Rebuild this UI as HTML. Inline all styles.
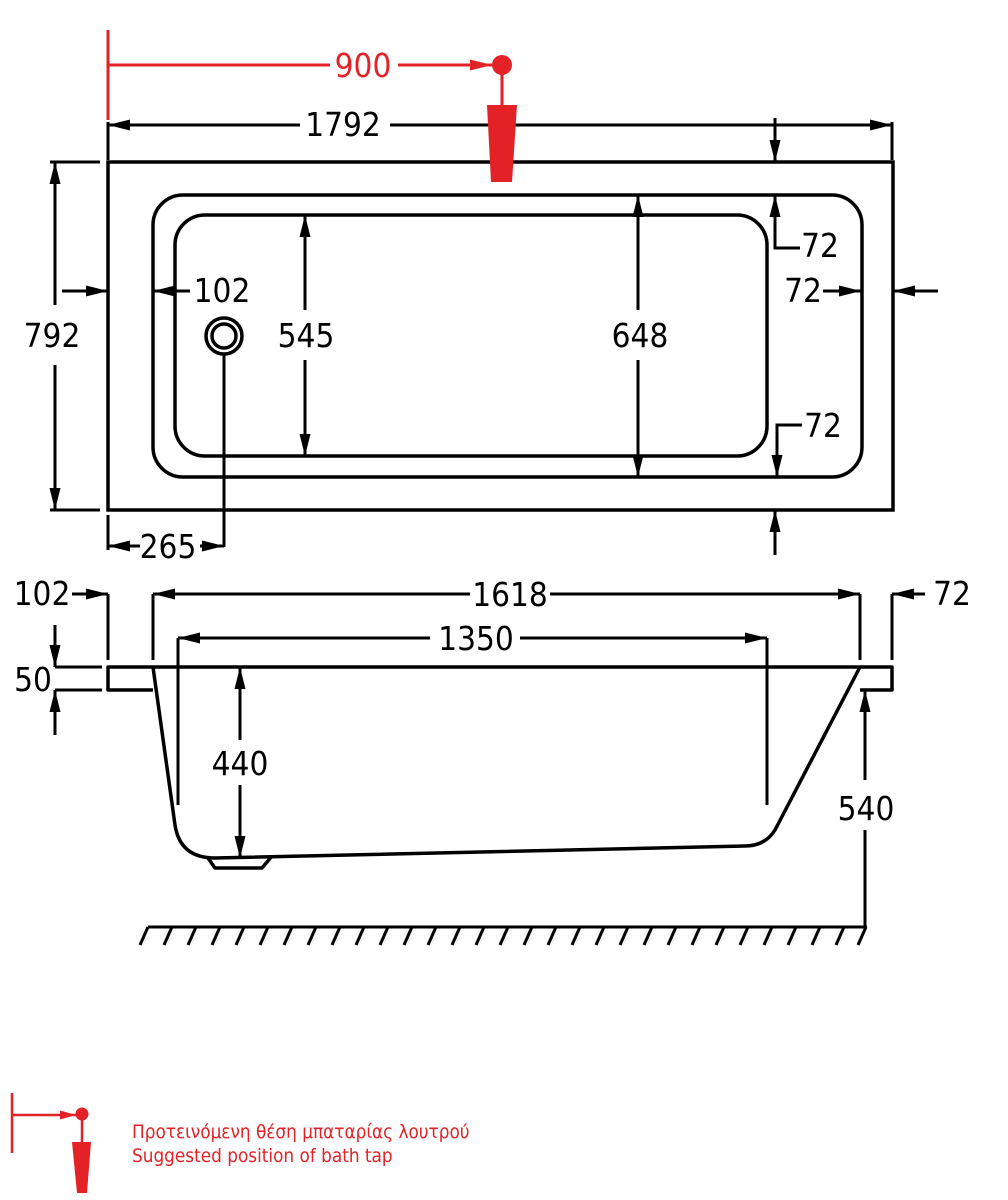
<!DOCTYPE html>
<html><head><meta charset="utf-8"><style>
html,body{margin:0;padding:0;background:#fff;}
svg{display:block;}
text{font-family:"Liberation Sans Narrow","DejaVu Sans Condensed","Liberation Sans",sans-serif;font-size:33px;fill:#000;text-anchor:middle;}
</style></head><body>
<svg width="1008" height="1200" viewBox="0 0 1008 1200" xmlns="http://www.w3.org/2000/svg">
<defs>
<marker id="a" viewBox="0 0 22 12" refX="22" refY="6" markerWidth="22" markerHeight="12" markerUnits="userSpaceOnUse" orient="auto"><path d="M0,0.5 L22,6 L0,11.5 Z" fill="#000"/></marker>
<marker id="r" viewBox="0 0 22 12" refX="22" refY="6" markerWidth="22" markerHeight="12" markerUnits="userSpaceOnUse" orient="auto"><path d="M0,0.5 L22,6 L0,11.5 Z" fill="#e32228"/></marker>
<marker id="rs" viewBox="0 0 16 10" refX="16" refY="5" markerWidth="16" markerHeight="10" markerUnits="userSpaceOnUse" orient="auto"><path d="M0,0.5 L16,5 L0,9.5 Z" fill="#e32228"/></marker>
</defs>
<g stroke="#000" stroke-width="3.5" fill="none">
<rect x="108" y="162" width="785" height="348"/>
<rect x="153" y="195" width="709" height="282" rx="30"/>
<rect x="175" y="215" width="592" height="241" rx="30"/>
<circle cx="224" cy="336" r="18"/>
<circle cx="224" cy="336" r="12"/>
</g>
<g stroke="#000" stroke-width="3" fill="none">
<line x1="108" y1="122" x2="108" y2="160"/><line x1="892" y1="122" x2="892" y2="160"/>
<line x1="300" y1="125" x2="108" y2="125" marker-end="url(#a)"/>
<line x1="390" y1="125" x2="892" y2="125" marker-end="url(#a)"/>
<line x1="50" y1="162" x2="100" y2="162"/><line x1="50" y1="510" x2="100" y2="510"/>
<line x1="55" y1="305" x2="55" y2="162" marker-end="url(#a)"/>
<line x1="55" y1="365" x2="55" y2="510" marker-end="url(#a)"/>
<line x1="62" y1="291" x2="108" y2="291" marker-end="url(#a)"/>
<line x1="190" y1="291" x2="153" y2="291" marker-end="url(#a)"/>
<line x1="224" y1="354" x2="224" y2="547"/>
<line x1="140" y1="546" x2="108" y2="546" marker-end="url(#a)"/>
<line x1="108" y1="515" x2="108" y2="550"/>
<line x1="200" y1="546" x2="224" y2="546" marker-end="url(#a)"/>
<line x1="305" y1="310" x2="305" y2="215" marker-end="url(#a)"/>
<line x1="305" y1="360" x2="305" y2="456" marker-end="url(#a)"/>
<line x1="638" y1="310" x2="638" y2="195" marker-end="url(#a)"/>
<line x1="638" y1="360" x2="638" y2="477" marker-end="url(#a)"/>
<line x1="775" y1="118" x2="775" y2="162" marker-end="url(#a)"/>
<polyline points="800,248 775,248 775,195" marker-end="url(#a)"/>
<polyline points="802,425 777,425 777,477" marker-end="url(#a)"/>
<line x1="775" y1="555" x2="775" y2="510" marker-end="url(#a)"/>
<line x1="823" y1="291" x2="861" y2="291" marker-end="url(#a)"/>
<line x1="938" y1="291" x2="893" y2="291" marker-end="url(#a)"/>
</g>
<text x="343" y="136">1792</text>
<text x="52" y="347">792</text>
<text x="222" y="302">102</text>
<text x="168" y="558">265</text>
<text x="306" y="347">545</text>
<text x="640" y="347">648</text>
<text x="820" y="257">72</text>
<text x="803" y="302">72</text>
<text x="823" y="437">72</text>
<g stroke="#e32228" stroke-width="3" fill="none">
<line x1="108" y1="30" x2="108" y2="120"/>
<line x1="108" y1="65" x2="330" y2="65"/>
<line x1="398" y1="65" x2="492" y2="65" marker-end="url(#r)"/>
<line x1="502" y1="65" x2="502" y2="105"/>
</g>
<circle cx="502" cy="65" r="10" fill="#e32228"/>
<polygon points="487,105 517,105 512,182 491,182" fill="#e32228"/>
<text x="363" y="77" style="fill:#e32228">900</text>
<g stroke="#000" stroke-width="3.5" fill="none" stroke-linejoin="round">
<polyline points="153,690 108,690 108,667 892,667 892,690 860,690"/>
<path d="M153,667 L175,825 Q180,858 215,858 L745,846 Q765,846 775,830 L860,667"/>
<polyline points="208,858 215,868 262,868 272,856"/>
</g>
<g stroke="#000" stroke-width="3" fill="none">
<line x1="178" y1="805" x2="178" y2="638"/><line x1="767" y1="805" x2="767" y2="638"/>
<line x1="430" y1="638" x2="178" y2="638" marker-end="url(#a)"/>
<line x1="520" y1="638" x2="767" y2="638" marker-end="url(#a)"/>
<line x1="153" y1="660" x2="153" y2="594"/><line x1="860" y1="660" x2="860" y2="594"/>
<line x1="470" y1="594" x2="153" y2="594" marker-end="url(#a)"/>
<line x1="550" y1="594" x2="860" y2="594" marker-end="url(#a)"/>
<line x1="108" y1="660" x2="108" y2="594"/><line x1="892" y1="660" x2="892" y2="594"/>
<line x1="72" y1="594" x2="108" y2="594" marker-end="url(#a)"/>
<line x1="925" y1="594" x2="892" y2="594" marker-end="url(#a)"/>
<line x1="55" y1="625" x2="55" y2="667" marker-end="url(#a)"/>
<line x1="55" y1="735" x2="55" y2="690" marker-end="url(#a)"/>
<line x1="55" y1="667" x2="102" y2="667"/><line x1="55" y1="690" x2="102" y2="690"/>
<line x1="240" y1="740" x2="240" y2="667" marker-end="url(#a)"/>
<line x1="240" y1="785" x2="240" y2="858" marker-end="url(#a)"/>
<line x1="865" y1="780" x2="865" y2="690" marker-end="url(#a)"/>
<line x1="865" y1="830" x2="865" y2="927"/>
<line x1="148" y1="927" x2="867" y2="927"/>
<path d="M148,927 l-8,18 M172,927 l-8,18 M196,927 l-8,18 M220,927 l-8,18 M244,927 l-8,18 M268,927 l-8,18 M292,927 l-8,18 M316,927 l-8,18 M340,927 l-8,18 M364,927 l-8,18 M388,927 l-8,18 M412,927 l-8,18 M436,927 l-8,18 M460,927 l-8,18 M484,927 l-8,18 M508,927 l-8,18 M532,927 l-8,18 M556,927 l-8,18 M580,927 l-8,18 M604,927 l-8,18 M628,927 l-8,18 M652,927 l-8,18 M676,927 l-8,18 M700,927 l-8,18 M724,927 l-8,18 M748,927 l-8,18 M772,927 l-8,18 M796,927 l-8,18 M820,927 l-8,18 M844,927 l-8,18 M866,927 l-8,18"/>
</g>
<text x="476" y="650">1350</text>
<text x="510" y="606">1618</text>
<text x="42" y="605">102</text>
<text x="952" y="605">72</text>
<text x="33" y="691">50</text>
<text x="240" y="775">440</text>
<text x="866" y="820">540</text>
<g stroke="#e32228" stroke-width="2.5" fill="none">
<line x1="12" y1="1093" x2="12" y2="1153"/>
<line x1="12" y1="1115" x2="76" y2="1115" marker-end="url(#rs)"/>
<line x1="82" y1="1115" x2="82" y2="1142"/>
</g>
<circle cx="82" cy="1114" r="6.5" fill="#e32228"/>
<polygon points="72,1142 91,1142 87,1193 77,1193" fill="#e32228"/>
<text x="132" y="1138" style="fill:#e32228;font-size:18.8px;text-anchor:start;font-family:'DejaVu Sans Condensed','Liberation Sans',sans-serif">Προτεινόμενη θέση μπαταρίας λουτρού</text>
<text x="132" y="1162" style="fill:#e32228;font-size:18.8px;text-anchor:start;font-family:'DejaVu Sans Condensed','Liberation Sans',sans-serif">Suggested position of bath tap</text>
</svg>
</body></html>
